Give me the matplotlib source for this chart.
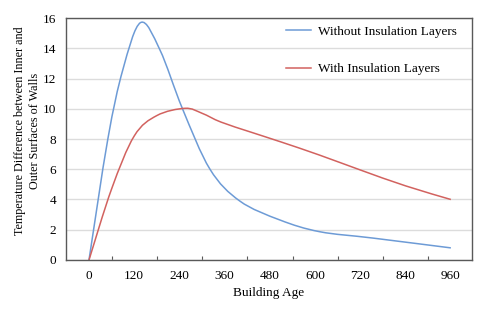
import matplotlib
matplotlib.use("Agg")
import matplotlib.pyplot as plt
from matplotlib.path import Path
from matplotlib.patches import PathPatch
from matplotlib.lines import Line2D
from matplotlib.ticker import FixedLocator, NullFormatter

plt.rcParams['font.family'] = ['Liberation Serif', 'DejaVu Serif']

# values
age_no = [0, 50, 90, 137, 188, 248, 321, 400, 507, 612, 753, 960]
temp_no = [0, 8.0, 12.6, 15.7, 13.9, 10.0, 6.0, 3.9, 2.64, 1.87, 1.45, 0.8]
age_ins = [0, 60, 120, 180, 255, 300, 350, 430, 510, 610, 720, 840, 960]
temp_ins = [0, 4.7, 8.2, 9.55, 10.03, 9.7, 9.12, 8.45, 7.8, 6.95, 5.95, 4.9, 4.0]

label_no = "Without Insulation Layers"
label_ins = "With Insulation Layers"
xlabels = [0, 120, 240, 360, 480, 600, 720, 840, 960]
yticks = [0, 2, 4, 6, 8, 10, 12, 14, 16]

col_no = '#6d9bd6'
col_ins = '#d2625f'


def smooth_line(ax, xs, ys, color):
    # Excel style "smoothed line": cubic bezier through every data point
    verts = [(xs[0], ys[0])]
    codes = [Path.MOVETO]
    n = len(xs)
    for i in range(n - 1):
        x0, y0 = xs[max(i - 1, 0)], ys[max(i - 1, 0)]
        x1, y1 = xs[i], ys[i]
        x2, y2 = xs[i + 1], ys[i + 1]
        x3, y3 = xs[min(i + 2, n - 1)], ys[min(i + 2, n - 1)]
        c1 = (x1 + (x2 - x0) / 6.0, y1 + (y2 - y0) / 6.0)
        c2 = (x2 - (x3 - x1) / 6.0, y2 - (y3 - y1) / 6.0)
        verts += [c1, c2, (x2, y2)]
        codes += [Path.CURVE4] * 3
    ax.add_patch(PathPatch(Path(verts, codes), fill=False, edgecolor=color, lw=1.1))


fig = plt.figure(figsize=(4.8, 3.09), dpi=100)
ax = fig.add_axes([0.1375, 0.1586, 0.8458, 0.7831])

smooth_line(ax, age_no, temp_no, col_no)
smooth_line(ax, age_ins, temp_ins, col_ins)

ax.set_xlim(-61, 1016)
ax.set_ylim(0, 16)

# tick marks sit between the labels, like an Excel category axis
ax.xaxis.set_major_locator(FixedLocator([60 + 120 * i for i in range(8)]))
ax.xaxis.set_major_formatter(NullFormatter())
ax.xaxis.set_minor_locator(FixedLocator(xlabels))
ax.set_xticklabels([str(v) for v in xlabels], minor=True)
ax.tick_params(axis='x', which='major', direction='in', length=3, color='#595959')
ax.tick_params(axis='x', which='minor', length=0, pad=7, labelsize=9.5)

ax.set_yticks(yticks)
ax.tick_params(axis='y', length=0, pad=7, labelsize=9.5)
ax.grid(axis='y', color='#dcdcdc', lw=1)
ax.set_axisbelow(True)

for sp in ax.spines.values():
    sp.set_color('#595959')
    sp.set_linewidth(1)

ax.set_xlabel("Building Age", fontsize=9.5, labelpad=4)
ax.set_ylabel("Temperature Difference between Inner and\nOuter Surfaces of Walls",
              fontsize=8.7, linespacing=1.3)
ax.yaxis.set_label_coords(-0.062, 0.533)

handles = [Line2D([], [], color=col_no, lw=1.1), Line2D([], [], color=col_ins, lw=1.1)]
ax.legend(handles, [label_no, label_ins], loc='upper left',
          bbox_to_anchor=(0.513, 1.017), frameon=False, fontsize=9.5,
          labelspacing=1.9, handlelength=1.9, handletextpad=0.5)

fig.savefig("out.png", dpi=100)
